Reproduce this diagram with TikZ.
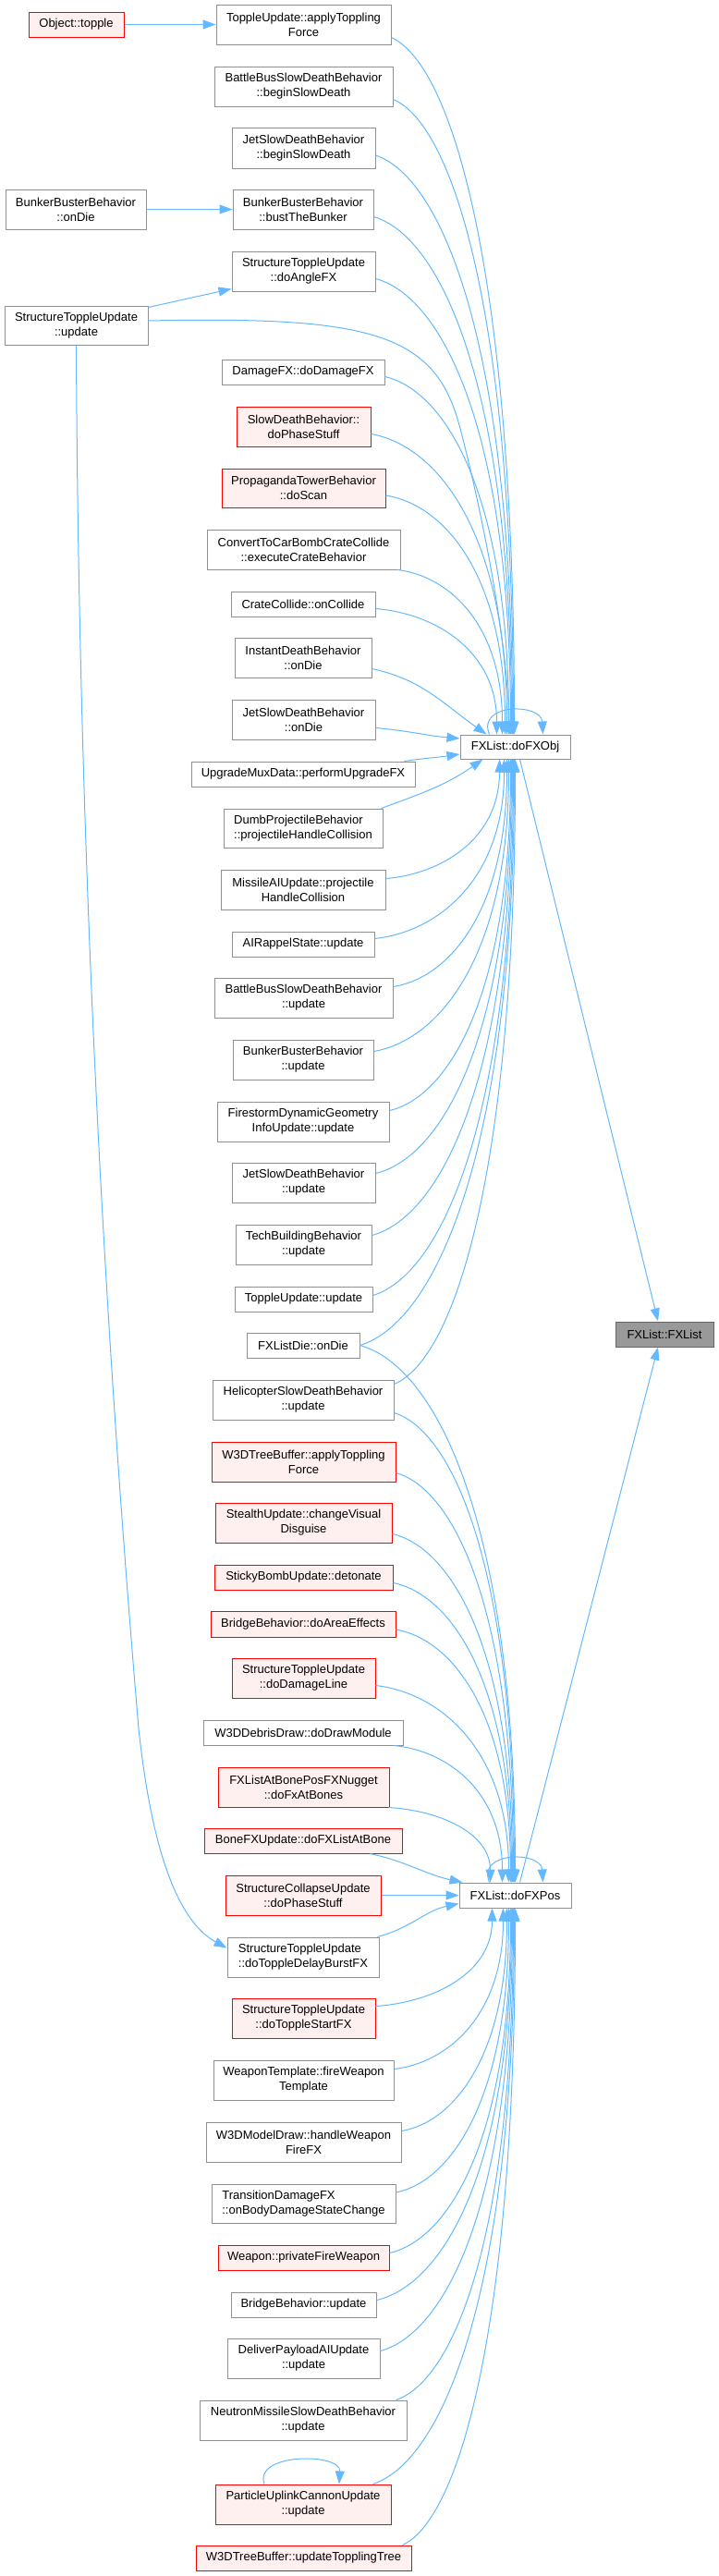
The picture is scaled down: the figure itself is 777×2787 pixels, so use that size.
\documentclass[tikz,border=0pt]{standalone}
\usepackage{fontspec}
\setmainfont{Liberation Sans}
\usetikzlibrary{arrows.meta,calc}
\definecolor{edgeblue}{HTML}{63B8FF}
\definecolor{nodegray}{HTML}{909090}
\definecolor{nodered}{HTML}{FF0000}
\definecolor{nodepink}{HTML}{FFF0F0}
\definecolor{rootfill}{HTML}{999999}
\definecolor{rootdraw}{HTML}{666666}
\tikzset{
  fn/.style={draw=nodegray, fill=white, line width=1pt, inner sep=0pt, align=center, font=\fontsize{13}{16}\selectfont},
  rn/.style={fn, draw=nodered, fill=nodepink},
  rootnode/.style={fn, draw=rootdraw, fill=rootfill},
  e/.style={draw=edgeblue, line width=1pt, -{Triangle[length=14pt,width=10pt]}},
}
\newcommand{\ce}[2]{\draw[e] let \p1=(#1), \p2=(#2) in (\p1) .. controls ({\x1+0.5*(\x2-(\x1))},{\y1+0.04*(\y2-(\y1))}) and ({\x2},{\y1+0.34*(\y2-(\y1))}) .. (\p2);}
\begin{document}
\begin{tikzpicture}[x=1pt,y=1pt]
\useasboundingbox (0,0) rectangle (777,-2787);
% left column
\node[rn, minimum width=103pt, minimum height=27pt] (obj_topple) at (82.5,-26.5) {Object::topple};
\node[fn, minimum width=152pt, minimum height=43pt] (bbb_ondie) at (82,-226.5) {BunkerBusterBehavior\\::onDie};
\node[fn, minimum width=155pt, minimum height=42pt] (stu_update) at (82.5,-352) {StructureToppleUpdate\\::update};
% middle column
\node[fn, minimum width=189pt, minimum height=43pt] (tu_apply) at (328.5,-26.5) {ToppleUpdate::applyToppling\\Force};
\node[fn, minimum width=193pt, minimum height=43pt] (bb_begin) at (328.5,-93.5) {BattleBusSlowDeathBehavior\\::beginSlowDeath};
\node[fn, minimum width=155pt, minimum height=44pt] (jet_begin) at (328.5,-160) {JetSlowDeathBehavior\\::beginSlowDeath};
\node[fn, minimum width=152pt, minimum height=43pt] (bbb_bust) at (328,-226.5) {BunkerBusterBehavior\\::bustTheBunker};
\node[fn, minimum width=155pt, minimum height=43pt] (stu_angle) at (328.5,-293.5) {StructureToppleUpdate\\::doAngleFX};
\node[fn, minimum width=176pt, minimum height=27pt] (dmgfx) at (328,-402.5) {DamageFX::doDamageFX};
\node[rn, minimum width=145pt, minimum height=43pt] (sdb_phase) at (328.5,-461.5) {SlowDeathBehavior::\\doPhaseStuff};
\node[rn, minimum width=177pt, minimum height=42pt] (ptb_scan) at (328.5,-528) {PropagandaTowerBehavior\\::doScan};
\node[fn, minimum width=209pt, minimum height=43pt] (ctcb) at (328.5,-594.5) {ConvertToCarBombCrateCollide\\::executeCrateBehavior};
\node[fn, minimum width=156pt, minimum height=27pt] (crate) at (328,-653.5) {CrateCollide::onCollide};
\node[fn, minimum width=148pt, minimum height=43pt] (idb) at (328,-711.5) {InstantDeathBehavior\\::onDie};
\node[fn, minimum width=155pt, minimum height=43pt] (jet_ondie) at (328.5,-778.5) {JetSlowDeathBehavior\\::onDie};
\node[fn, minimum width=242pt, minimum height=27pt] (umux) at (328,-837.5) {UpgradeMuxData::performUpgradeFX};
\node[fn, minimum width=172pt, minimum height=42pt, align=left] (dumb) at (328,-896) {DumbProjectileBehavior\\::projectileHandleCollision};
\node[fn, minimum width=178pt, minimum height=43pt] (missile) at (328,-962.5) {MissileAIUpdate::projectile\\HandleCollision};
\node[fn, minimum width=154pt, minimum height=27pt] (airappel) at (328,-1021.5) {AIRappelState::update};
\node[fn, minimum width=193pt, minimum height=43pt] (bb_update) at (328.5,-1079.5) {BattleBusSlowDeathBehavior\\::update};
\node[fn, minimum width=152pt, minimum height=43pt] (bbb_update) at (328,-1146.5) {BunkerBusterBehavior\\::update};
\node[fn, minimum width=186pt, minimum height=43pt] (firestorm) at (328,-1213.5) {FirestormDynamicGeometry\\InfoUpdate::update};
\node[fn, minimum width=155pt, minimum height=43pt] (jet_update) at (328.5,-1279.5) {JetSlowDeathBehavior\\::update};
\node[fn, minimum width=147pt, minimum height=43pt] (tech) at (328.5,-1346.5) {TechBuildingBehavior\\::update};
\node[fn, minimum width=149pt, minimum height=27pt] (tu_update) at (328.5,-1405.5) {ToppleUpdate::update};
\node[fn, minimum width=122pt, minimum height=27pt] (fxdie) at (328,-1455.5) {FXListDie::onDie};
\node[fn, minimum width=196pt, minimum height=43pt] (heli) at (328,-1514.5) {HelicopterSlowDeathBehavior\\::update};
\node[rn, minimum width=199pt, minimum height=43pt] (tree_apply) at (328.5,-1581.5) {W3DTreeBuffer::applyToppling\\Force};
\node[rn, minimum width=191pt, minimum height=43pt] (stealth) at (328.5,-1647.5) {StealthUpdate::changeVisual\\Disguise};
\node[rn, minimum width=193pt, minimum height=27pt] (sticky) at (328.5,-1706.5) {StickyBombUpdate::detonate};
\node[rn, minimum width=200pt, minimum height=28pt] (bridge_area) at (328,-1757) {BridgeBehavior::doAreaEffects};
\node[rn, minimum width=155pt, minimum height=43pt] (dmgline) at (328.5,-1815.5) {StructureToppleUpdate\\::doDamageLine};
\node[fn, minimum width=216pt, minimum height=27pt] (debris) at (328,-1874.5) {W3DDebrisDraw::doDrawModule};
\node[rn, minimum width=185pt, minimum height=43pt] (atbone) at (328.5,-1933.5) {FXListAtBonePosFXNugget\\::doFxAtBones};
\node[rn, minimum width=214pt, minimum height=27pt] (bonefx) at (328,-1991.5) {BoneFXUpdate::doFXListAtBone};
\node[rn, minimum width=168pt, minimum height=43pt] (collapse) at (328,-2050.5) {StructureCollapseUpdate\\::doPhaseStuff};
\node[fn, minimum width=164pt, minimum height=43pt, align=left] (delay) at (328,-2117.5) {StructureToppleUpdate\\::doToppleDelayBurstFX};
\node[rn, minimum width=155pt, minimum height=43pt] (startfx) at (328.5,-2183.5) {StructureToppleUpdate\\::doToppleStartFX};
\node[fn, minimum width=195pt, minimum height=43pt] (wtemplate) at (328.5,-2250.5) {WeaponTemplate::fireWeapon\\Template};
\node[fn, minimum width=211pt, minimum height=43pt] (modeldraw) at (328.5,-2317.5) {W3DModelDraw::handleWeapon\\FireFX};
\node[fn, minimum width=199pt, minimum height=42pt, align=left] (transition) at (328.5,-2384) {TransitionDamageFX\\::onBodyDamageStateChange};
\node[rn, minimum width=185pt, minimum height=27pt] (privfire) at (328.5,-2442.5) {Weapon::privateFireWeapon};
\node[fn, minimum width=157pt, minimum height=27pt] (bridge_update) at (328.5,-2493.5) {BridgeBehavior::update};
\node[fn, minimum width=165pt, minimum height=43pt] (deliver) at (328.5,-2551.5) {DeliverPayloadAIUpdate\\::update};
\node[fn, minimum width=224pt, minimum height=43pt] (neutron) at (328,-2618.5) {NeutronMissileSlowDeathBehavior\\::update};
\node[rn, minimum width=190pt, minimum height=43pt] (particle) at (328,-2709.5) {ParticleUplinkCannonUpdate\\::update};
\node[rn, minimum width=233pt, minimum height=27pt] (tree_upd) at (328.5,-2767.5) {W3DTreeBuffer::updateTopplingTree};
% right
\node[fn, minimum width=119pt, minimum height=26pt] (fxobj) at (557.5,-808) {FXList::doFXObj};
\node[fn, minimum width=121pt, minimum height=27pt] (fxpos) at (557.5,-2050.5) {FXList::doFXPos};
\node[rootnode, minimum width=106pt, minimum height=27pt] (fxlist) at (719,-1443.5) {FXList::FXList};
% left edges
\draw[e] (obj_topple.east) -- (tu_apply.west);
\draw[e] (bbb_ondie.east) -- (bbb_bust.west);
\draw[e] ([yshift=-2pt]stu_update.north east) -- ([yshift=-19pt]stu_angle.west);
\draw[e] ([yshift=5pt]stu_update.east) .. controls (400,-342) and (470,-360) .. (497,-460) .. controls (517,-535) and (548,-680) .. ([xshift=-6pt]fxobj.north);
\draw[e] (stu_update.south) .. controls (85,-900) and (110,-1400) .. (150,-1870) .. controls (165,-2010) and (195,-2080) .. ([yshift=10pt]delay.west);
% into doFXObj from above
\ce{[yshift=-14pt]tu_apply.east}{[xshift=-1pt]fxobj.north}
\ce{[yshift=-14pt]bb_begin.east}{[xshift=-2pt]fxobj.north}
\ce{[yshift=-8pt]jet_begin.east}{[xshift=-3pt]fxobj.north}
\ce{[yshift=-8pt]bbb_bust.east}{[xshift=-4pt]fxobj.north}
\ce{[yshift=-8pt]stu_angle.east}{[xshift=-5pt]fxobj.north}
\ce{[yshift=-5pt]dmgfx.east}{[xshift=-7pt]fxobj.north}
\ce{[yshift=-8pt]sdb_phase.east}{[xshift=-9pt]fxobj.north}
\ce{[yshift=-8pt]ptb_scan.east}{[xshift=-11pt]fxobj.north}
\ce{[xshift=-3pt]ctcb.south east}{[xshift=-14pt]fxobj.north}
\ce{[yshift=-5pt]crate.east}{[xshift=-20pt]fxobj.north}
\draw[e] ([yshift=-12pt]idb.east) to[out=-12,in=145] ([xshift=29pt]fxobj.north west);
\draw[e] ([yshift=-9pt]jet_ondie.east) to[out=-5,in=175] ([yshift=9pt]fxobj.west);
\draw[e] ([xshift=-12pt]umux.north east) to[out=8,in=-172] ([yshift=-8pt]fxobj.west);
% into doFXObj from below
\draw[e] ([xshift=-2pt]dumb.north east) to[out=20,in=-145] ([xshift=-35pt]fxobj.south);
\ce{[yshift=12pt]missile.east}{[xshift=-17pt]fxobj.south}
\ce{[yshift=6pt]airappel.east}{[xshift=-12pt]fxobj.south}
\ce{[yshift=12pt]bb_update.east}{[xshift=-9pt]fxobj.south}
\ce{[yshift=9pt]bbb_update.east}{[xshift=-7pt]fxobj.south}
\ce{[yshift=12pt]firestorm.east}{[xshift=-5pt]fxobj.south}
\ce{[yshift=10pt]jet_update.east}{[xshift=-4pt]fxobj.south}
\ce{[yshift=10pt]tech.east}{[xshift=-3pt]fxobj.south}
\ce{[yshift=4pt]tu_update.east}{[xshift=-2pt]fxobj.south}
\ce{fxdie.east}{[xshift=-1pt]fxobj.south}
\ce{[yshift=17pt]heli.east}{fxobj.south}
% into doFXPos from above
\ce{fxdie.east}{fxpos.north}
\ce{[yshift=-14pt]heli.east}{[xshift=-1pt]fxpos.north}
\ce{[yshift=-12pt]tree_apply.east}{[xshift=-2pt]fxpos.north}
\ce{[yshift=-12pt]stealth.east}{[xshift=-3pt]fxpos.north}
\ce{[yshift=-6pt]sticky.east}{[xshift=-4pt]fxpos.north}
\ce{[yshift=-6pt]bridge_area.east}{[xshift=-5pt]fxpos.north}
\ce{[yshift=-8pt]dmgline.east}{[xshift=-7pt]fxpos.north}
\ce{[xshift=-10pt]debris.south east}{[xshift=-14pt]fxpos.north}
\ce{[xshift=-1pt]atbone.south east}{[xshift=-27pt]fxpos.north}
\draw[e] ([xshift=-35pt]bonefx.south east) to[out=-12,in=168] ([xshift=4pt]fxpos.north west);
\draw[e] (collapse.east) -- (fxpos.west);
\draw[e] ([xshift=-2pt]delay.north east) to[out=15,in=-168] ([yshift=-9pt]fxpos.west);
% into doFXPos from below
\ce{[yshift=13pt]startfx.east}{[xshift=-25pt]fxpos.south}
\ce{[yshift=12pt]wtemplate.east}{[xshift=-13pt]fxpos.south}
\ce{[yshift=12pt]modeldraw.east}{[xshift=-9pt]fxpos.south}
\ce{[yshift=12pt]transition.east}{[xshift=-7pt]fxpos.south}
\ce{[yshift=5pt]privfire.east}{[xshift=-5pt]fxpos.south}
\ce{[yshift=5pt]bridge_update.east}{[xshift=-4pt]fxpos.south}
\ce{[yshift=8pt]deliver.east}{[xshift=-3pt]fxpos.south}
\ce{[xshift=-12pt]neutron.north east}{[xshift=-2pt]fxpos.south}
\ce{[xshift=-20pt]particle.north east}{[xshift=-1pt]fxpos.south}
\ce{[xshift=-10pt]tree_upd.north east}{fxpos.south}
% to the root
\draw[e] ([xshift=5pt]fxobj.south) -- ([xshift=-7pt]fxlist.north);
\draw[e] ([xshift=5pt]fxpos.north) -- ([xshift=-7pt]fxlist.south);
% self loops
\draw[e] ([xshift=-28pt]fxobj.north) .. controls +(-14,34) and +(-2,34) .. ([xshift=30pt]fxobj.north);
\draw[e] ([xshift=-28pt]fxpos.north) .. controls +(-14,34) and +(-2,34) .. ([xshift=30pt]fxpos.north);
\draw[e] ([xshift=-42pt]particle.north) .. controls +(-12,34) and +(2,34) .. ([xshift=39pt]particle.north);
\end{tikzpicture}
\end{document}
